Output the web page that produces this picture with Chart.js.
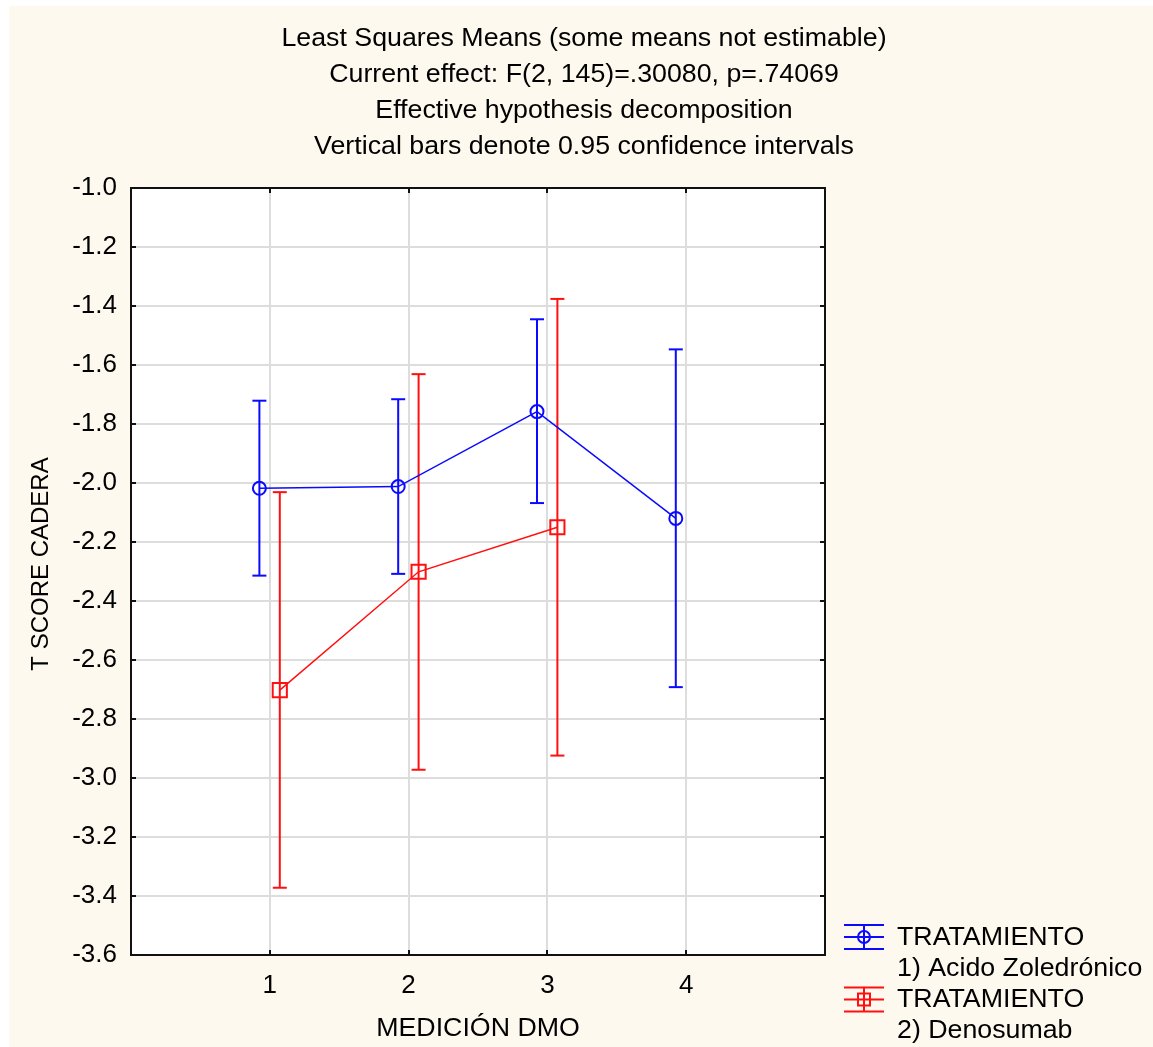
<!DOCTYPE html>
<html>
<head>
<meta charset="utf-8">
<title>T score cadera - medias de mínimos cuadrados</title>
<script src="https://cdn.jsdelivr.net/npm/chart.js@4.4.0/dist/chart.umd.min.js"></script>
<style>
  html, body { margin: 0; padding: 0; background: #fff; }
  canvas { display: block; }
</style>
</head>
<body>
<canvas id="lsmChart" width="1153" height="1047"></canvas>
<script>
// ===== Data =====
const mediciones = [1, 2, 3, 4];

// 1) Acido Zoledrónico
const zolMedia = [-2.018, -2.012, -1.758, -2.120];
const zolInf   = [-2.314, -2.308, -2.068, -2.692];
const zolSup   = [-1.721, -1.716, -1.445, -1.547];

// 2) Denosumab (no estimable en la medición 4)
const denoMedia = [-2.702, -2.301, -2.150];
const denoInf   = [-3.372, -2.972, -2.924];
const denoSup   = [-2.031, -1.631, -1.376];

const yTickValues = [-3.6, -3.4, -3.2, -3.0, -2.8, -2.6, -2.4, -2.2, -2.0, -1.8, -1.6, -1.4, -1.2, -1.0];
const xTickLabels = ['1', '2', '3', '4'];

const titleLines = [
  'Least Squares Means (some means not estimable)',
  'Current effect: F(2, 145)=.30080, p=.74069',
  'Effective hypothesis decomposition',
  'Vertical bars denote 0.95 confidence intervals'
];
const legendLines = [
  ['TRATAMIENTO', '1) Acido Zoledrónico'],
  ['TRATAMIENTO', '2) Denosumab']
];

// ===== Styles =====
const AZUL = '#0a0aff';
const ROJO = '#ff1010';
const CREMA = '#fef9ee';
const FONT = '"Liberation Sans", Arial, sans-serif';
const ESTIRAR = 1.07;      // text in this style is a bit wider than plain Arial
const desplZol = -0.075;   // small horizontal dodge so the two groups don't overlap
const desplDeno = 0.072;

function puntos(media, despl) {
  return media.map((y, i) => ({ x: mediciones[i] + despl, y: y }));
}

function barraError(x, lo, hi, color) {
  return {
    data: [{ x: x, y: lo }, { x: x, y: hi }],
    showLine: true,
    borderColor: color,
    borderWidth: 2,
    pointStyle: 'line',
    pointRadius: 7,
    pointHoverRadius: 7,
    pointBorderWidth: 2,
    pointBorderColor: color,
    order: 2
  };
}

const datasets = [
  {
    label: 'Acido Zoledrónico',
    data: puntos(zolMedia, desplZol),
    showLine: true,
    borderColor: AZUL,
    borderWidth: 1.5,
    pointStyle: 'circle',
    pointRadius: 6.5,
    pointHoverRadius: 6.5,
    pointBorderWidth: 2,
    pointBorderColor: AZUL,
    pointBackgroundColor: 'rgba(0,0,0,0)',
    order: 1
  },
  {
    label: 'Denosumab',
    data: puntos(denoMedia, desplDeno),
    showLine: true,
    borderColor: ROJO,
    borderWidth: 1.5,
    pointStyle: 'rect',
    pointRadius: 10,
    pointHoverRadius: 10,
    pointBorderWidth: 2,
    pointBorderColor: ROJO,
    pointBackgroundColor: 'rgba(0,0,0,0)',
    order: 1
  }
];
zolMedia.forEach((m, i) => datasets.push(barraError(mediciones[i] + desplZol, zolInf[i], zolSup[i], AZUL)));
denoMedia.forEach((m, i) => datasets.push(barraError(mediciones[i] + desplDeno, denoInf[i], denoSup[i], ROJO)));

// draws text stretched horizontally around its anchor point
function texto(ctx, str, x, y, align) {
  ctx.save();
  ctx.translate(x, y);
  ctx.scale(ESTIRAR, 1);
  ctx.textAlign = align;
  ctx.fillText(str, 0, 0);
  ctx.restore();
}

// ===== Plugins: background, frame, titles, legend =====
const decorado = {
  id: 'decorado',
  beforeDraw(chart) {
    const ctx = chart.ctx;
    const a = chart.chartArea;
    ctx.save();
    ctx.fillStyle = '#ffffff';
    ctx.fillRect(0, 0, chart.width, chart.height);
    ctx.fillStyle = CREMA;
    ctx.fillRect(9, 6, chart.width - 9, chart.height - 6);
    ctx.fillStyle = '#ffffff';
    ctx.fillRect(a.left, a.top, a.right - a.left, a.bottom - a.top);
    ctx.restore();
  },
  afterDraw(chart) {
    const ctx = chart.ctx;
    const a = chart.chartArea;
    const xs = chart.scales.x, ys = chart.scales.y;
    ctx.save();

    // frame + inward ticks
    ctx.strokeStyle = '#111';
    ctx.lineWidth = 2;
    ctx.strokeRect(a.left, a.top, a.right - a.left, a.bottom - a.top);
    ctx.beginPath();
    yTickValues.forEach(v => {
      const py = Math.round(ys.getPixelForValue(v));
      ctx.moveTo(a.left, py); ctx.lineTo(a.left + 5, py);
      ctx.moveTo(a.right, py); ctx.lineTo(a.right - 5, py);
    });
    mediciones.forEach(v => {
      const px = Math.round(xs.getPixelForValue(v));
      ctx.moveTo(px, a.bottom); ctx.lineTo(px, a.bottom - 5);
      ctx.moveTo(px, a.top); ctx.lineTo(px, a.top + 5);
    });
    ctx.stroke();

    // title block
    ctx.fillStyle = '#000';
    ctx.textBaseline = 'middle';
    ctx.font = '25px ' + FONT;
    titleLines.forEach((t, i) => texto(ctx, t, 584, 39 + i * 36, 'center'));

    // axis titles
    texto(ctx, 'MEDICIÓN DMO', (a.left + a.right) / 2, 1029, 'center');
    ctx.save();
    ctx.translate(41, 564);
    ctx.rotate(-Math.PI / 2);
    ctx.font = '24px ' + FONT;
    ctx.textAlign = 'center';
    ctx.fillText('T SCORE CADERA', 0, 0);
    ctx.restore();

    // legend
    const items = [
      { color: AZUL, marker: 'circle', cy: 937 },
      { color: ROJO, marker: 'rect', cy: 999.5 }
    ];
    items.forEach((it, i) => {
      const x0 = 844, x1 = 884, cx = 864;
      ctx.strokeStyle = it.color;
      ctx.lineWidth = 2;
      ctx.beginPath();
      ctx.moveTo(x0, it.cy - 12); ctx.lineTo(x1, it.cy - 12);
      ctx.moveTo(x0, it.cy + 12); ctx.lineTo(x1, it.cy + 12);
      ctx.moveTo(x0, it.cy); ctx.lineTo(x1, it.cy);
      ctx.moveTo(cx, it.cy - 12); ctx.lineTo(cx, it.cy + 12);
      ctx.stroke();
      ctx.beginPath();
      if (it.marker === 'circle') {
        ctx.arc(cx, it.cy, 6, 0, Math.PI * 2);
      } else {
        ctx.rect(cx - 6, it.cy - 6, 12, 12);
      }
      ctx.stroke();

      ctx.fillStyle = '#000';
      ctx.font = '25px ' + FONT;
      texto(ctx, legendLines[i][0], 897, it.cy + 1, 'left');
      texto(ctx, legendLines[i][1], 897, it.cy + 32, 'left');
    });
    ctx.restore();
  }
};

// ===== Chart =====
const ctx = document.getElementById('lsmChart').getContext('2d');
const lsmChart = new Chart(ctx, {
  type: 'scatter',
  data: { datasets: datasets },
  options: {
    responsive: false,
    animation: false,
    devicePixelRatio: 1,
    layout: { padding: { left: 0, top: 188, right: 328, bottom: 0 } },
    plugins: {
      legend: { display: false },
      tooltip: { enabled: false },
      title: { display: false }
    },
    scales: {
      x: {
        type: 'linear',
        min: 0,
        max: 5,
        afterBuildTicks: s => { s.ticks = mediciones.map(v => ({ value: v })); },
        afterFit: s => { s.height = 92; },
        ticks: {
          callback: (v) => xTickLabels[mediciones.indexOf(v)] || '',
          color: '#000',
          font: { family: FONT, size: 26 },
          padding: 15,
          maxRotation: 0
        },
        grid: { color: '#dddddd', lineWidth: 2, drawTicks: false },
        border: { display: false }
      },
      y: {
        type: 'linear',
        min: -3.6,
        max: -1.0,
        afterBuildTicks: s => { s.ticks = yTickValues.map(v => ({ value: v })); },
        afterFit: s => { s.width = 131; },
        ticks: {
          callback: (v) => v.toFixed(1),
          color: '#000',
          font: { family: FONT, size: 26 },
          padding: 14
        },
        grid: { color: '#dddddd', lineWidth: 2, drawTicks: false },
        border: { display: false }
      }
    }
  },
  plugins: [decorado]
});
</script>
</body>
</html>
